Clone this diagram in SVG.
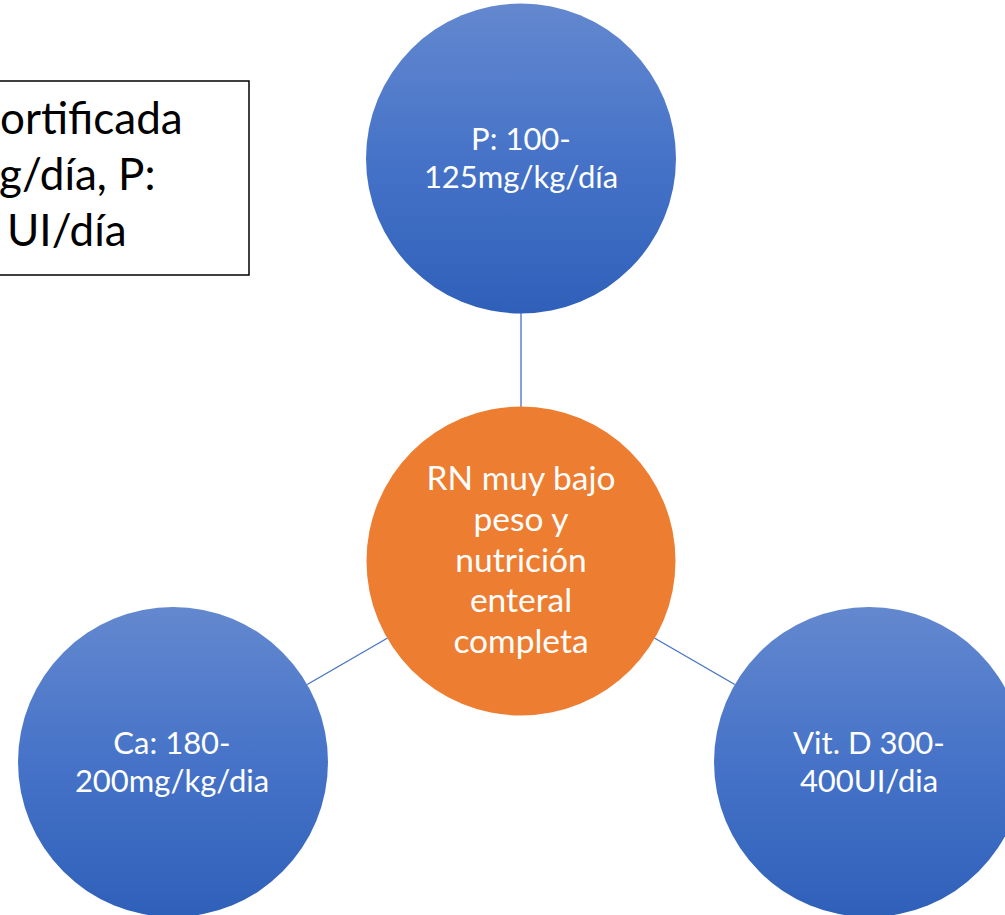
<svg xmlns="http://www.w3.org/2000/svg" width="1005" height="915" viewBox="0 0 1005 915">
  <defs>
    <linearGradient id="blueFill" x1="0" y1="0" x2="0" y2="1">
      <stop offset="0" stop-color="#6388cf"/>
      <stop offset="0.5" stop-color="#4673c8"/>
      <stop offset="1" stop-color="#2f60b9"/>
    </linearGradient>
  </defs>
  <style>
    .blue { fill: url(#blueFill); }
    .orange { fill: #ed7d31; }
    .label { font-family: Lato, "Open Sans", "Liberation Sans", sans-serif; font-size: 31px; fill: #ffffff; text-anchor: middle; }
    .center-label { font-size: 33.5px; }
    .connector { stroke: #4472c4; stroke-width: 1.3; fill: none; }
    .note-box { fill: #ffffff; stroke: #000000; stroke-width: 1.5; }
    .note-text { font-family: Lato, "Open Sans", "Liberation Sans", sans-serif; font-size: 44px; fill: #000000; }
  </style>
  <rect width="1005" height="915" fill="#ffffff"/>

  <!-- note box, running off the left edge -->
  <g id="note">
    <rect class="note-box" x="-200" y="81" width="449" height="194"/>
    <text class="note-text" x="0" y="134">ortificada</text>
    <text class="note-text" x="-1" y="190">g/día, P:</text>
    <text class="note-text" x="7" y="246">UI/día</text>
  </g>

  <!-- spokes from the hub to each outer circle -->
  <g id="connectors">
    <line class="connector" x1="521" y1="313" x2="521" y2="407"/>
    <line class="connector" x1="387.6" y1="638" x2="307.2" y2="684.5"/>
    <line class="connector" x1="654.4" y1="638" x2="734.8" y2="684.5"/>
  </g>

  <g id="phosphorus">
    <circle class="blue" cx="521" cy="158.5" r="155"/>
    <text class="label" x="521" y="150">P: 100-</text>
    <text class="label" x="521" y="188">125mg/kg/día</text>
  </g>

  <g id="hub">
    <circle class="orange" cx="521" cy="561" r="154.5"/>
    <text class="label center-label" x="521" y="490">RN muy bajo</text>
    <text class="label center-label" x="521" y="531">peso y</text>
    <text class="label center-label" x="521" y="572">nutrición</text>
    <text class="label center-label" x="521" y="612">enteral</text>
    <text class="label center-label" x="521" y="653">completa</text>
  </g>

  <g id="calcium">
    <circle class="blue" cx="173" cy="762" r="155"/>
    <text class="label" x="172" y="754">Ca: 180-</text>
    <text class="label" x="172" y="792">200mg/kg/dia</text>
  </g>

  <g id="vitamin-d">
    <circle class="blue" cx="869" cy="762" r="155"/>
    <text class="label" x="869" y="754">Vit. D 300-</text>
    <text class="label" x="869" y="792">400UI/dia</text>
  </g>
</svg>
